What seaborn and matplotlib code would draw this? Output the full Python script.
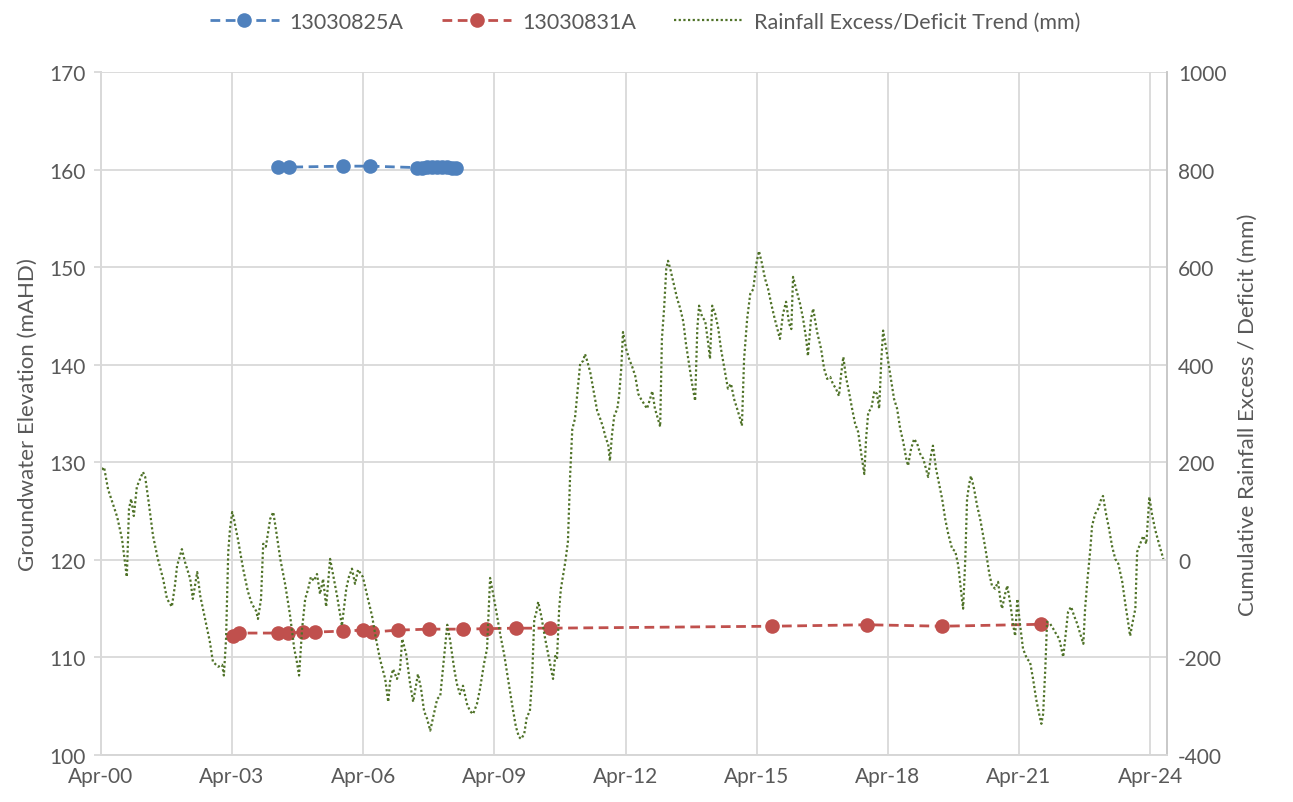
import numpy as np
import pandas as pd
import seaborn as sns
import matplotlib.pyplot as plt
from matplotlib.lines import Line2D

# bore 13030825A (decimal year, mAHD)
b825_year = [2004.30, 2004.55, 2005.79, 2006.40, 2007.48, 2007.59, 2007.71,
             2007.82, 2007.94, 2008.05, 2008.17, 2008.28, 2008.37]
b825_level = [160.25, 160.25, 160.35, 160.35, 160.2, 160.2, 160.25,
              160.3, 160.25, 160.3, 160.25, 160.2, 160.2]

# bore 13030831A
b831_year = [2003.27, 2003.41, 2004.30, 2004.53, 2004.87, 2005.15, 2005.79,
             2006.24, 2006.45, 2007.04, 2007.75, 2008.53, 2009.06, 2009.74,
             2010.52, 2015.60, 2017.78, 2019.49, 2021.76]
b831_level = [112.2, 112.5, 112.5, 112.5, 112.6, 112.6, 112.7,
              112.8, 112.6, 112.8, 112.9, 112.9, 112.95, 113.0,
              113.0, 113.2, 113.35, 113.2, 113.4]

# cumulative rainfall excess / deficit (mm)
rain_year = [
    2000.27, 2000.32, 2000.41, 2000.62, 2000.73, 2000.84, 2000.89, 2000.94, 2001.00, 2001.07,
    2001.14, 2001.21, 2001.26, 2001.33, 2001.44, 2001.55, 2001.67, 2001.76, 2001.87, 2001.94,
    2001.99, 2002.10, 2002.17, 2002.29, 2002.35, 2002.45, 2002.52, 2002.63, 2002.74, 2002.81,
    2002.93, 2003.02, 2003.06, 2003.11, 2003.16, 2003.20, 2003.25, 2003.29, 2003.38, 2003.50,
    2003.61, 2003.70, 2003.80, 2003.84, 2003.91, 2003.96, 2004.02, 2004.12, 2004.19, 2004.25,
    2004.35, 2004.46, 2004.57, 2004.67, 2004.73, 2004.78, 2004.85, 2004.92, 2004.99, 2005.05,
    2005.12, 2005.19, 2005.26, 2005.33, 2005.40, 2005.49, 2005.65, 2005.76, 2005.86, 2005.92,
    2005.99, 2006.06, 2006.13, 2006.24, 2006.34, 2006.45, 2006.54, 2006.63, 2006.75, 2006.82,
    2006.86, 2006.93, 2007.02, 2007.09, 2007.14, 2007.23, 2007.32, 2007.39, 2007.46, 2007.50,
    2007.57, 2007.64, 2007.71, 2007.78, 2007.85, 2007.94, 2008.01, 2008.07, 2008.17, 2008.23,
    2008.33, 2008.39, 2008.46, 2008.53, 2008.62, 2008.69, 2008.76, 2008.85, 2008.92, 2009.01,
    2009.08, 2009.13, 2009.15, 2009.22, 2009.29, 2009.38, 2009.47, 2009.56, 2009.65, 2009.74,
    2009.81, 2009.86, 2009.93, 2009.99, 2010.06, 2010.11, 2010.16, 2010.20, 2010.25, 2010.32,
    2010.41, 2010.50, 2010.59, 2010.64, 2010.68, 2010.73, 2010.77, 2010.87, 2010.93, 2010.98,
    2011.03, 2011.09, 2011.14, 2011.21, 2011.28, 2011.32, 2011.37, 2011.44, 2011.53, 2011.60,
    2011.67, 2011.73, 2011.80, 2011.85, 2011.89, 2011.94, 2011.99, 2012.06, 2012.10, 2012.15,
    2012.19, 2012.26, 2012.33, 2012.40, 2012.47, 2012.54, 2012.60, 2012.67, 2012.74, 2012.81,
    2012.86, 2012.92, 2012.99, 2013.04, 2013.08, 2013.13, 2013.18, 2013.22, 2013.27, 2013.34,
    2013.43, 2013.50, 2013.57, 2013.63, 2013.70, 2013.77, 2013.84, 2013.89, 2013.93, 2014.00,
    2014.07, 2014.14, 2014.18, 2014.23, 2014.30, 2014.37, 2014.43, 2014.53, 2014.59, 2014.66,
    2014.73, 2014.80, 2014.87, 2014.91, 2014.96, 2015.03, 2015.10, 2015.17, 2015.24, 2015.30,
    2015.37, 2015.44, 2015.51, 2015.58, 2015.65, 2015.72, 2015.78, 2015.85, 2015.92, 2015.99,
    2016.04, 2016.08, 2016.15, 2016.24, 2016.31, 2016.38, 2016.42, 2016.49, 2016.54, 2016.63,
    2016.72, 2016.79, 2016.86, 2016.93, 2016.99, 2017.06, 2017.13, 2017.18, 2017.23, 2017.29,
    2017.36, 2017.43, 2017.50, 2017.57, 2017.64, 2017.71, 2017.75, 2017.80, 2017.87, 2017.94,
    2018.00, 2018.05, 2018.10, 2018.14, 2018.21, 2018.30, 2018.39, 2018.46, 2018.53, 2018.60,
    2018.67, 2018.71, 2018.78, 2018.85, 2018.92, 2018.99, 2019.06, 2019.12, 2019.17, 2019.24,
    2019.28, 2019.35, 2019.42, 2019.49, 2019.56, 2019.63, 2019.72, 2019.79, 2019.86, 2019.93,
    2019.97, 2020.02, 2020.06, 2020.11, 2020.15, 2020.22, 2020.29, 2020.36, 2020.43, 2020.50,
    2020.57, 2020.63, 2020.70, 2020.77, 2020.82, 2020.86, 2020.93, 2020.98, 2021.05, 2021.11,
    2021.16, 2021.21, 2021.27, 2021.34, 2021.43, 2021.50, 2021.57, 2021.64, 2021.71, 2021.76,
    2021.80, 2021.85, 2021.89, 2021.96, 2022.03, 2022.10, 2022.17, 2022.26, 2022.33, 2022.37,
    2022.44, 2022.51, 2022.58, 2022.65, 2022.72, 2022.76, 2022.81, 2022.88, 2022.92, 2022.99,
    2023.06, 2023.13, 2023.17, 2023.24, 2023.31, 2023.38, 2023.45, 2023.52, 2023.61, 2023.68,
    2023.75, 2023.79, 2023.84, 2023.91, 2023.95, 2024.02, 2024.09, 2024.16, 2024.23, 2024.29,
    2024.36, 2024.45, 2024.55]
rain_mm = [
    185, 190, 145, 88, 43, -35, 105, 125, 90, 150,
    165, 180, 170, 125, 49, 2, -39, -80, -96, -53,
    -12, 22, -4, -39, -80, -25, -74, -121, -168, -209,
    -219, -215, -237, -162, 16, 63, 98, 84, 43, -18,
    -65, -90, -105, -121, -80, 33, 27, 84, 98, 63,
    2, -49, -111, -182, -209, -237, -141, -80, -59, -35,
    -43, -29, -70, -39, -96, 2, -74, -135, -59, -35,
    -18, -49, -20, -35, -74, -115, -162, -203, -244, -291,
    -250, -224, -244, -224, -162, -193, -254, -291, -254, -234,
    -264, -310, -326, -350, -322, -285, -279, -224, -133, -162,
    -224, -254, -275, -258, -295, -310, -316, -295, -264, -213,
    -182, -80, -37, -70, -105, -152, -193, -244, -295, -342,
    -363, -367, -357, -322, -310, -244, -121, -111, -86, -115,
    -162, -203, -244, -197, -203, -100, -59, -4, 37, 172,
    268, 289, 336, 402, 408, 422, 408, 385, 340, 305,
    289, 273, 248, 238, 203, 258, 295, 310, 336, 392,
    467, 433, 412, 396, 377, 340, 330, 320, 310, 330,
    346, 310, 289, 273, 453, 515, 597, 613, 597, 570,
    535, 515, 488, 443, 402, 361, 326, 474, 521, 498,
    490, 443, 412, 521, 504, 474, 433, 381, 351, 361,
    330, 310, 289, 275, 412, 494, 545, 555, 607, 633,
    607, 576, 555, 525, 498, 474, 453, 504, 529, 484,
    473, 580, 555, 525, 494, 453, 418, 494, 515, 467,
    433, 392, 371, 375, 361, 351, 336, 381, 416, 375,
    344, 310, 279, 262, 217, 176, 248, 303, 310, 346,
    340, 310, 412, 470, 433, 381, 330, 310, 269, 242,
    207, 193, 228, 248, 238, 217, 207, 187, 170, 217,
    234, 187, 156, 125, 84, 53, 22, 18, -12, -70,
    -100, 2, 125, 156, 172, 146, 111, 84, 49, 12,
    -29, -53, -59, -45, -80, -100, -70, -53, -90, -131,
    -156, -80, -131, -182, -203, -209, -244, -285, -316, -336,
    -316, -223, -127, -131, -141, -152, -162, -199, -141, -107,
    -96, -115, -131, -152, -172, -100, -45, 22, 70, 94,
    105, 125, 131, 94, 63, 27, 2, -8, -45, -90,
    -131, -156, -131, -100, 16, 33, 49, 33, 129, 94,
    63, 33, 2]

# x ticks: every third April
tick_dates = pd.date_range('2000-04-01', '2024-04-01', freq='36MS')


def to_date(years):
    years = np.asarray(years, dtype=float)
    return pd.Timestamp('2000-01-01') + pd.to_timedelta((years - 2000) * 365.25, unit='D')


df825 = pd.DataFrame({'date': to_date(b825_year), 'level': b825_level})
df831 = pd.DataFrame({'date': to_date(b831_year), 'level': b831_level})
dfrain = pd.DataFrame({'date': to_date(rain_year), 'mm': rain_mm})

sns.set_theme(style='white')
plt.rcParams['font.family'] = ['Lato', 'DejaVu Sans']
plt.rcParams['axes.unicode_minus'] = False

BLUE = '#4f81bd'
RED = '#c0504d'
GREEN = '#4f7228'
GRID = '#d9d9d9'
TXT = '#595959'
DASH = (0, (3.5, 2))
DOTS = (0, (1, 1.1))

fig = plt.figure(figsize=(12.93, 8.03), dpi=100)
ax = fig.add_axes([0.0781, 0.0585, 0.8245, 0.8506])
ax2 = ax.twinx()

sns.lineplot(data=df825, x='date', y='level', ax=ax, color=BLUE, estimator=None,
             linestyle=DASH, linewidth=2, marker='o', markersize=10.5,
             markeredgewidth=0)
sns.lineplot(data=df831, x='date', y='level', ax=ax, color=RED, estimator=None,
             linestyle=DASH, linewidth=2, marker='o', markersize=10.5,
             markeredgewidth=0)
sns.lineplot(data=dfrain, x='date', y='mm', ax=ax2, color=GREEN, estimator=None,
             linestyle=DOTS, linewidth=1.6, dash_capstyle='butt')

ax.set_ylim(100, 170)
ax.set_yticks(range(100, 171, 10))
ax2.set_ylim(-400, 1000)
ax2.set_yticks(range(-400, 1001, 200))
ax.set_xlim(pd.Timestamp('2000-04-01'), pd.Timestamp('2024-08-20'))
ax.set_xticks(tick_dates)
ax.set_xticklabels([d.strftime('%b-%y') for d in tick_dates])

ax.grid(True, color=GRID, linewidth=1.3)
ax.set_axisbelow(True)
for a in (ax, ax2):
    for s in a.spines.values():
        s.set_color(GRID)
        s.set_linewidth(1.3)
    a.tick_params(length=0, labelsize=15, labelcolor=TXT, pad=8)
ax.tick_params(axis='y', length=5, width=1.3, color=GRID, pad=6)
ax.spines['top'].set_visible(False)
ax2.spines['top'].set_visible(False)
ax.spines['bottom'].set_color('#bfbfbf')
ax2.spines['right'].set_color('#c8c8c8')

ax.set_xlabel('')
ax.set_ylabel('Groundwater Elevation (mAHD)', fontsize=16, color=TXT, labelpad=8)
ax2.set_ylabel('Cumulative Rainfall Excess / Deficit (mm)', fontsize=16, color=TXT, labelpad=8)

handles = [
    Line2D([], [], color=BLUE, linestyle=DASH, linewidth=2, marker='o',
           markersize=10.5, markeredgewidth=0),
    Line2D([], [], color=RED, linestyle=DASH, linewidth=2, marker='o',
           markersize=10.5, markeredgewidth=0),
    Line2D([], [], color=GREEN, linestyle=DOTS, linewidth=1.6),
]
labels = ['13030825A', '13030831A', 'Rainfall Excess/Deficit Trend (mm)']
fig.legend(handles, labels, loc='upper center', bbox_to_anchor=(0.499, 1.008),
           ncol=3, frameon=False, fontsize=15.5, handlelength=3.2,
           handletextpad=0.5, columnspacing=1.8, labelcolor=TXT)

fig.savefig('out.png', dpi=100)
